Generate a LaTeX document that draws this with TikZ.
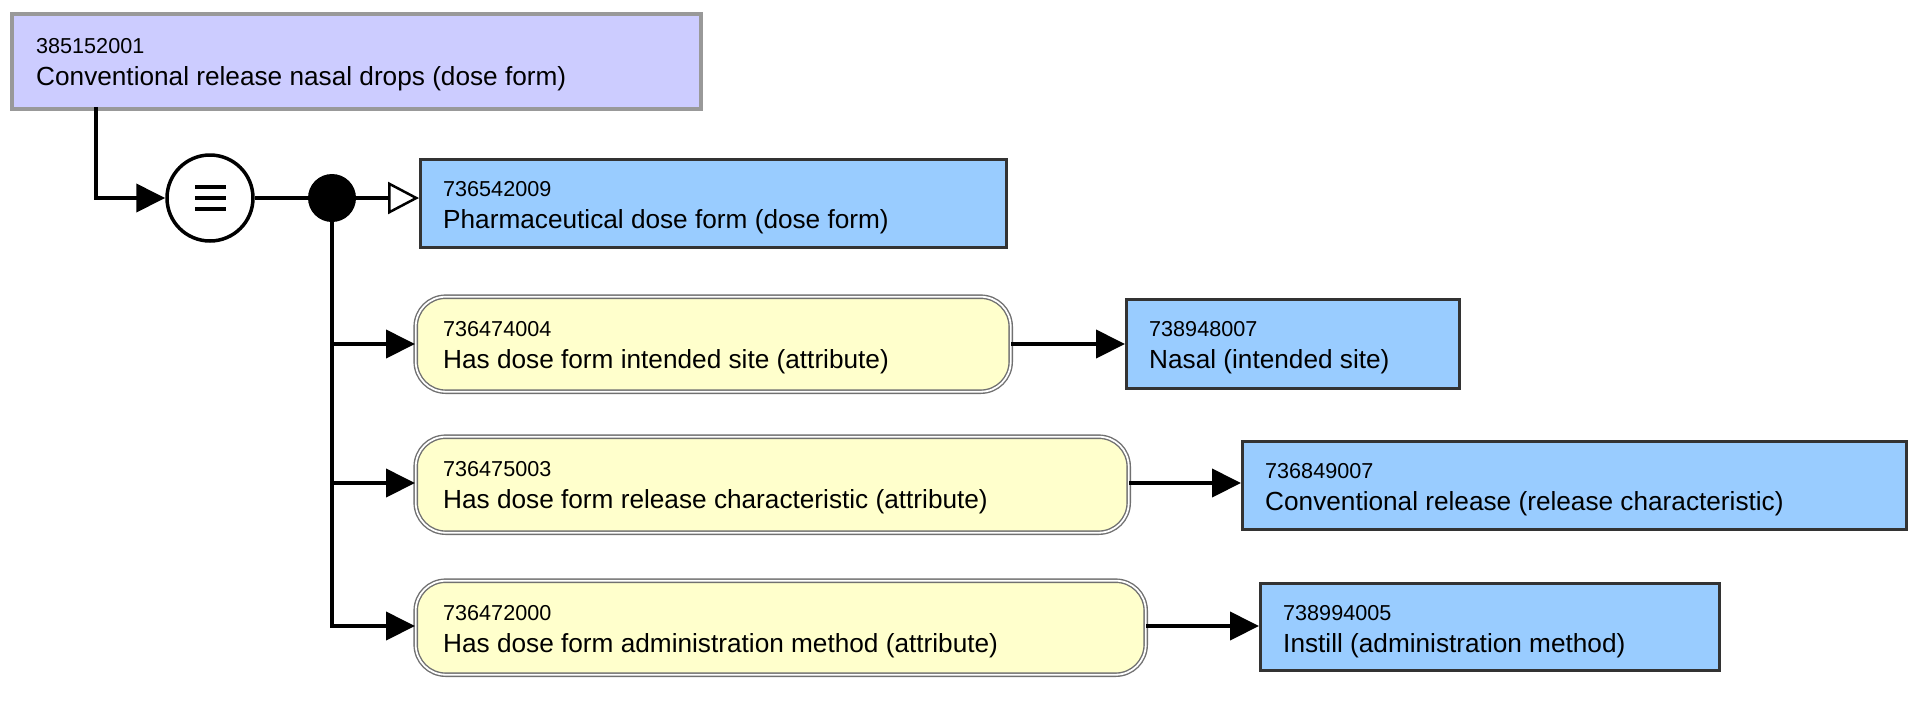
\documentclass[tikz,border=0pt]{standalone}
\usepackage{fontspec}
\setmainfont{Liberation Sans}
\usetikzlibrary{arrows.meta,calc}
\definecolor{topfill}{HTML}{CCCCFF}
\definecolor{topdraw}{HTML}{999999}
\definecolor{bluefill}{HTML}{99CCFF}
\definecolor{bluedraw}{HTML}{333333}
\definecolor{yelfill}{HTML}{FFFFCC}
\definecolor{yeldraw}{HTML}{707070}
\tikzset{
  topbox/.style={draw=topdraw,fill=topfill,line width=4pt,anchor=north west,inner sep=0pt},
  bluebox/.style={draw=bluedraw,fill=bluefill,line width=3pt,anchor=north west,inner sep=0pt},
  yelbox/.style={draw=yeldraw,fill=yelfill,line width=1.4pt,double=white,double distance=1.8pt,rounded corners=30pt,anchor=north west,inner sep=0pt},
  idtext/.style={anchor=base west,inner sep=0pt,font=\fontsize{21.6}{24}\selectfont},
  maintext/.style={anchor=base west,inner sep=0pt,font=\fontsize{26.2}{30}\selectfont},
  conn/.style={line width=4pt,black},
  farrow/.style={conn,-{Triangle[length=29pt,width=28pt]}},
  oarrow/.style={conn,-{Triangle[open,length=31pt,width=32pt,fill=white,line width=2.5pt]}}
}
\begin{document}
\begin{tikzpicture}[x=1pt,y=-1pt]
\useasboundingbox (0,0) rectangle (1926,716);
% top box
\node[topbox,minimum width=689pt,minimum height=95pt] (top) at (10,12) {};
\node[idtext] (topid) at ($(top.north west)+(26,41)$) {385152001};
\node[maintext] (toplab) at ($(top.north west)+(26,73)$) {Conventional release nasal drops (dose form)};
% equivalence circle and dot
\node[circle,draw,line width=3.5pt,minimum size=86pt,inner sep=0pt] (eq) at (210,198) {};
\draw[line width=3.5pt] (195,187) -- (226,187) (195,198) -- (226,198) (195,209) -- (226,209);
\node[circle,fill=black,minimum size=48pt,inner sep=0pt] (dot) at (332,198) {};
% blue box 1
\node[bluebox,minimum width=586pt,minimum height=88pt] (b1) at (419,158) {};
\node[idtext] (b1id) at ($(b1.north west)+(24,38)$) {736542009};
\node[maintext] (b1lab) at ($(b1.north west)+(24,70)$) {Pharmaceutical dose form (dose form)};
% yellow 1
\node[yelbox,minimum width=595pt,minimum height=95pt] (y1) at (415,296) {};
\node[idtext] (y1id) at ($(y1.north west)+(28,40)$) {736474004};
\node[maintext] (y1lab) at ($(y1.north west)+(28,72)$) {Has dose form intended site (attribute)};
% blue 2
\node[bluebox,minimum width=333pt,minimum height=89pt] (b2) at (1125,298) {};
\node[idtext] (b2id) at ($(b2.north west)+(24,38)$) {738948007};
\node[maintext] (b2lab) at ($(b2.north west)+(24,70)$) {Nasal (intended site)};
% yellow 2
\node[yelbox,minimum width=713pt,minimum height=96pt] (y2) at (415,436) {};
\node[idtext] (y2id) at ($(y2.north west)+(28,40)$) {736475003};
\node[maintext] (y2lab) at ($(y2.north west)+(28,72)$) {Has dose form release characteristic (attribute)};
% blue 3
\node[bluebox,minimum width=664pt,minimum height=88pt] (b3) at (1241,440) {};
\node[idtext] (b3id) at ($(b3.north west)+(24,38)$) {736849007};
\node[maintext] (b3lab) at ($(b3.north west)+(24,70)$) {Conventional release (release characteristic)};
% yellow 3
\node[yelbox,minimum width=730pt,minimum height=94pt] (y3) at (415,580) {};
\node[idtext] (y3id) at ($(y3.north west)+(28,40)$) {736472000};
\node[maintext] (y3lab) at ($(y3.north west)+(28,72)$) {Has dose form administration method (attribute)};
% blue 4
\node[bluebox,minimum width=459pt,minimum height=87pt] (b4) at (1259,582) {};
\node[idtext] (b4id) at ($(b4.north west)+(24,38)$) {738994005};
\node[maintext] (b4lab) at ($(b4.north west)+(24,70)$) {Instill (administration method)};
% connectors
\coordinate (topout) at (96,107);
\draw[farrow] (topout) |- (eq.west);
\draw[conn] (eq.east) -- (dot.west);
\draw[oarrow] (dot.east) -- (b1.west |- dot.east);
\draw[farrow] (dot.south) |- (y3.west |- 0,626);
\draw[farrow] (dot.south) |- (y1.west |- 0,344);
\draw[farrow] (dot.south) |- (y2.west |- 0,483);
\draw[farrow] (y1.east |- 0,344) -- (b2.west |- 0,344);
\draw[farrow] (y2.east |- 0,483) -- (b3.west |- 0,483);
\draw[farrow] (y3.east |- 0,626) -- (b4.west |- 0,626);
\end{tikzpicture}
\end{document}
